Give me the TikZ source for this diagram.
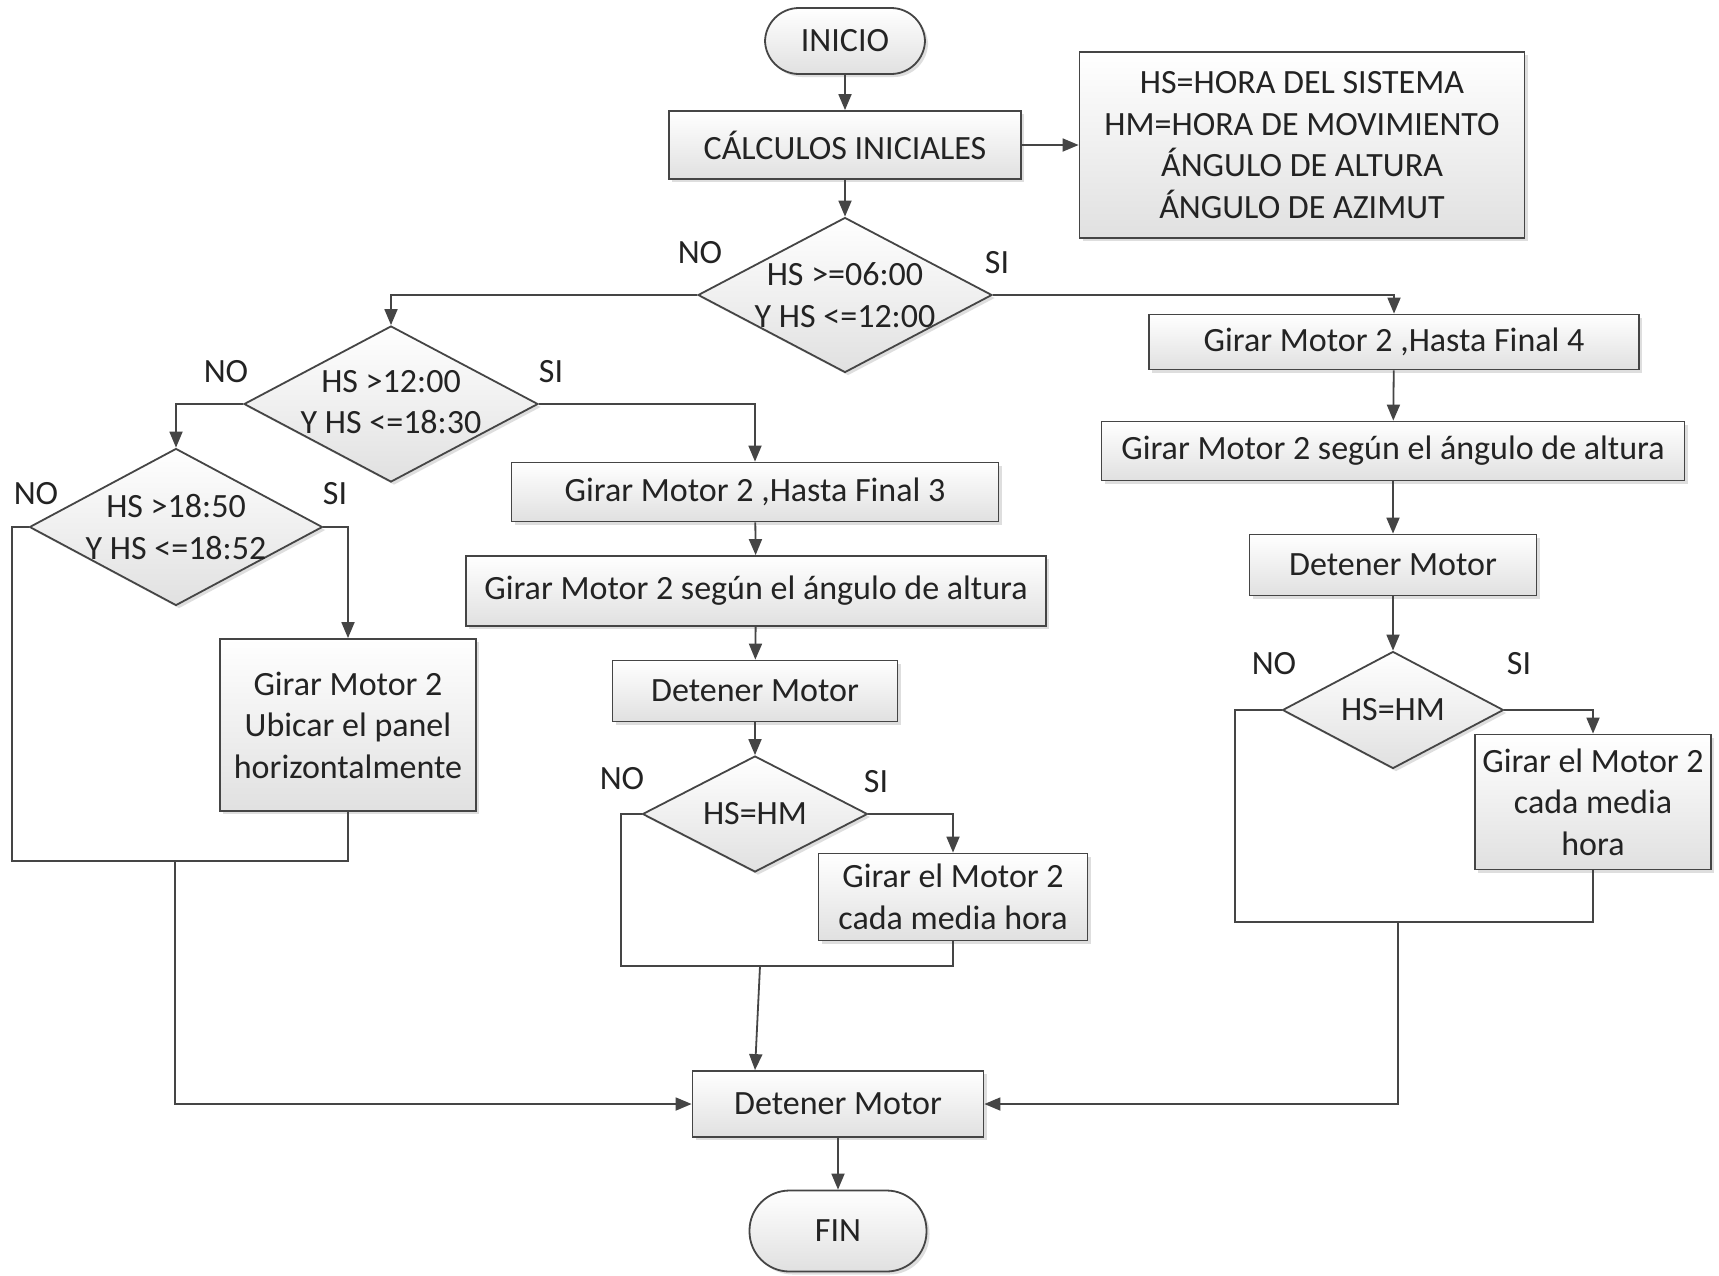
\documentclass[tikz,border=0pt]{standalone}
\usepackage{fontspec}
\setmainfont{Carlito}
\usetikzlibrary{shapes.geometric,arrows.meta,shadows}
\definecolor{ln}{HTML}{454545}
\definecolor{tx}{HTML}{232323}
\begin{document}
\begin{tikzpicture}[x=1pt,y=-1pt,
  every node/.style={font=\fontsize{34}{41.5}\selectfont, text=tx},
  shaded/.style={draw=ln, line width=1.8pt, top color=white, bottom color=black!12,
    drop shadow={fill=black!25, shadow xshift=3pt, shadow yshift=-3pt}},
  proc/.style={shaded, rectangle, inner sep=0pt, align=center},
  term/.style={proc, rounded corners=34pt},
  dec/.style={shaded, diamond, inner sep=0pt},
  dtext/.style={align=center, inner sep=0pt},
  lab/.style={inner sep=0pt},
  conn/.style={draw=ln, line width=1.8pt},
  arr/.style={conn, -{Triangle[length=16pt,width=13pt]}}
]
\useasboundingbox (0,0) rectangle (1719,1275);
\fill[white] (0,0) rectangle (1719,1275);

% top
\node[term, minimum width=160, minimum height=66] (ini) at (845,41) {INICIO};
\node[proc, minimum width=352, minimum height=68] (calc) at (845,145) {CÁLCULOS INICIALES};
\node[proc, minimum width=445, minimum height=186] (info) at (1302,145)
  {HS=HORA DEL SISTEMA\\HM=HORA DE MOVIMIENTO\\ÁNGULO DE ALTURA\\ÁNGULO DE AZIMUT};
\node[dec, minimum width=294, minimum height=155] (d1) at (845,295) {};
\node[dtext] (d1t) at (845,295) {HS >=06:00\\Y HS <=12:00};
\node[lab] (d1no) at (700,253) {NO};
\node[lab] (d1si) at (997,263) {SI};

% left branch
\node[dec, minimum width=294, minimum height=156] (d2) at (391,404) {};
\node[dtext] (d2t) at (391,402) {HS >12:00\\Y HS <=18:30};
\node[lab] (d2no) at (226,372) {NO};
\node[lab] (d2si) at (551,372) {SI};

\node[dec, minimum width=293, minimum height=157] (d3) at (176,527) {};
\node[dtext] (d3t) at (176,527) {HS >18:50\\Y HS <=18:52};
\node[lab] (d3no) at (36,494) {NO};
\node[lab] (d3si) at (335,494) {SI};

\node[proc, minimum width=256, minimum height=172] (ubic) at (348,725)
  {Girar Motor 2\\Ubicar el panel\\horizontalmente};

% middle branch
\node[proc, minimum width=487, minimum height=59] (f3) at (755,492) {Girar Motor 2 ,Hasta Final 3};
\node[proc, minimum width=580, minimum height=70] (alt1) at (756,591) {Girar Motor 2 según el ángulo de altura};
\node[proc, minimum width=285, minimum height=61] (det1) at (755,691) {Detener Motor};
\node[dec, minimum width=225, minimum height=116] (d4) at (755,814) {};
\node[dtext] (d4t) at (755,814) {HS=HM};
\node[lab] (d4no) at (622,779) {NO};
\node[lab] (d4si) at (876,782) {SI};
\node[proc, minimum width=269, minimum height=87] (cada1) at (953,897) {Girar el Motor 2\\cada media hora};

% right branch
\node[proc, minimum width=490, minimum height=55] (f4) at (1394,342) {Girar Motor 2 ,Hasta Final 4};
\node[proc, minimum width=583, minimum height=59] (alt2) at (1393,451) {Girar Motor 2 según el ángulo de altura};
\node[proc, minimum width=287, minimum height=61] (det2) at (1393,565) {Detener Motor};
\node[dec, minimum width=221, minimum height=117] (d5) at (1393,710) {};
\node[dtext] (d5t) at (1393,710) {HS=HM};
\node[lab] (d5no) at (1274,664) {NO};
\node[lab] (d5si) at (1519,664) {SI};
\node[proc, minimum width=236, minimum height=135] (cada2) at (1593,802) {Girar el Motor 2\\cada media\\hora};

% bottom
\node[proc, minimum width=291, minimum height=66] (detF) at (838,1104) {Detener Motor};
\node[term, minimum width=177, minimum height=81, rounded corners=40pt] (fin) at (838,1231) {FIN};

% junction coordinates
\coordinate (l3) at (12,861);
\coordinate (j3) at (175,861);
\coordinate (l4) at (621,966);
\coordinate (j4) at (760,966);
\coordinate (l5) at (1235,922);
\coordinate (j5) at (1398,922);

% connectors
\draw[arr] (ini) -- (calc);
\draw[arr] (calc) -- (info);
\draw[arr] (calc) -- (d1);
\draw[arr] (d1.west) -| (d2.north);
\draw[arr] (d1.east) -| (f4.north);
\draw[arr] (d2.west) -| (d3.north);
\draw[arr] (d2.east) -| (f3.north);
\draw[arr] (d3.east) -| (ubic.north);
\draw[conn] (d3.west) -| (l3) -| (ubic.south);
\draw[arr] (j3) |- (detF.west);

\draw[arr] (f3) -- (alt1);
\draw[arr] (alt1) -- (det1);
\draw[arr] (det1) -- (d4);
\draw[arr] (d4.east) -| (cada1.north);
\draw[conn] (d4.west) -| (l4) -| (cada1.south);
\draw[arr] (j4) -- (det1 |- detF.north);

\draw[arr] (f4) -- (alt2);
\draw[arr] (alt2) -- (det2);
\draw[arr] (det2) -- (d5);
\draw[arr] (d5.east) -| (cada2.north);
\draw[conn] (d5.west) -| (l5) -| (cada2.south);
\draw[arr] (j5) |- (detF.east);

\draw[arr] (detF) -- (fin);
\end{tikzpicture}
\end{document}
